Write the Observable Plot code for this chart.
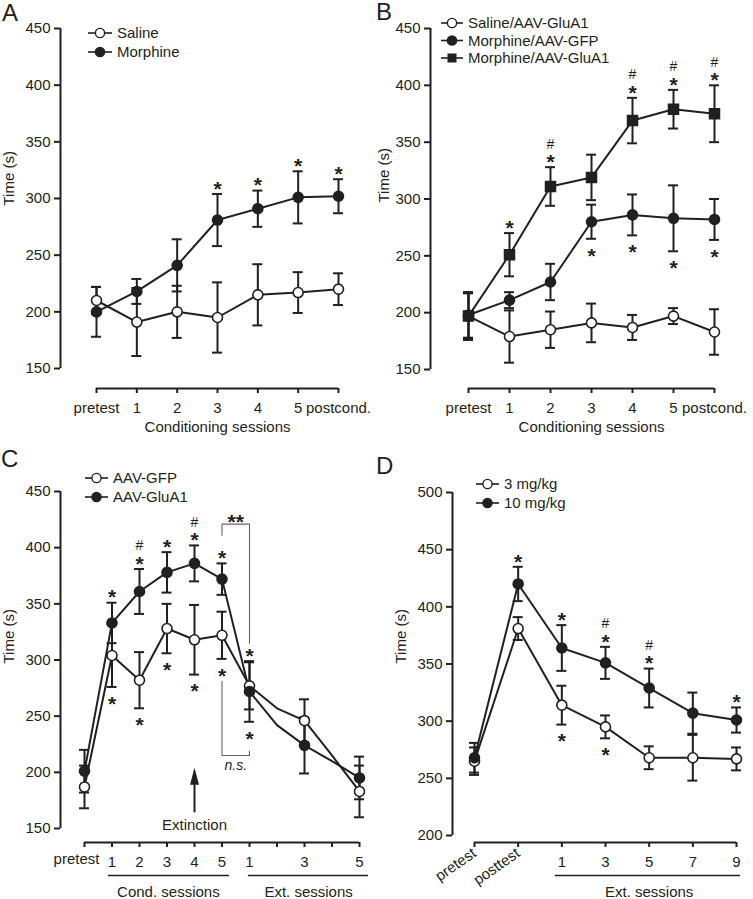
<!DOCTYPE html>
<html><head><meta charset="utf-8">
<script src="https://cdn.jsdelivr.net/npm/d3@7"></script>
<script src="https://cdn.jsdelivr.net/npm/@observablehq/plot@0.6"></script>
<style>
body{margin:0;background:#fff;}
#fig{position:relative;width:753px;height:899px;background:#fff;overflow:hidden;font-family:'Liberation Sans',Arial,Helvetica,sans-serif;color:#231f20}
.panel{position:absolute}
.letter{position:absolute;font-size:24px;line-height:1}
</style></head><body><div id="fig"></div>
<script>
const INK = "#231f20";
const FONT = "'Liberation Sans', Arial, Helvetica, sans-serif";

// ---------- Panel A ----------
const A_labels = ["pretest", "1", "2", "3", "4", "5", "postcond."];
const A_yticks = [150, 200, 250, 300, 350, 400, 450];
const A_series = ["Saline", "Morphine"];
const A_saline = [210, 191, 200, 195, 215, 217, 220];
const A_saline_sem = [12, 30, 23, 31, 27, 18, 14];
const A_morphine = [200, 218, 241, 281, 291, 301, 302];
const A_morphine_sem = [22, 11, 23, 23, 16, 23, 15];
const A_morphine_sig = ["", "", "", "*", "*", "*", "*"];

// ---------- Panel B ----------
const B_labels = ["pretest", "1", "2", "3", "4", "5", "postcond."];
const B_yticks = [150, 200, 250, 300, 350, 400, 450];
const B_series = ["Saline/AAV-GluA1", "Morphine/AAV-GFP", "Morphine/AAV-GluA1"];
const B_saline = [197, 179, 185, 191, 187, 197, 183];
const B_saline_sem = [20, 23, 16, 17, 11, 7, 20];
const B_gfp = [198, 211, 227, 280, 286, 283, 282];
const B_gfp_sem = [20, 7, 16, 15, 18, 29, 18];
const B_gfp_sig = ["", "", "", "*", "*", "*", "*"];
const B_glua1 = [197, 251, 311, 319, 369, 379, 375];
const B_glua1_sem = [21, 19, 17, 20, 20, 17, 25];
const B_glua1_sig = ["", "*", "*", "", "*", "*", "*"];
const B_glua1_hash = ["", "", "#", "", "#", "#", "#"];

// ---------- Panel C ----------
const C_labels = ["pretest", "1", "2", "3", "4", "5", "1", "", "3", "", "5"];
const C_yticks = [150, 200, 250, 300, 350, 400, 450];
const C_series = ["AAV-GFP", "AAV-GluA1"];
const C_gfp = [187, 304, 282, 328, 318, 322, 277, 257, 246, 215, 183];
const C_gfp_sem = [19, 28, 25, 22, 31, 21, 21, null, 19, null, 23];
const C_glua1 = [201, 333, 361, 378, 386, 372, 272, 242, 224, 210, 195];
const C_glua1_sem = [19, 18, 20, 18, 16, 14, 27, null, 25, null, 19];
const C_sig_above = ["", "*", "*", "*", "*", "*", "*", "", "", "", ""];
const C_hash_above = ["", "", "#", "", "#", "", "", "", "", "", ""];
const C_sig_below = ["", "*", "*", "*", "*", "*", "*", "", "", "", ""];
const C_groups = ["Cond. sessions", "Ext. sessions"];
const C_group_from = [0.87, 5.96];
const C_group_to = [5.27, 10.33];
const C_group_mid = [3.05, 8.15];
const C_bracket_sig = [[5, 411], [5, 421], [6, 421], [6, 315]];
const C_bracket_ns = [[5, 281], [5, 215], [6, 215], [6, 219]];
const C_bracket_text = [[5.5, 427, "**"], [5.5, 206, "n.s."]];
const C_arrow = {i: 4, from: 164, to: 189, label: "Extinction", labelAt: 153};

// ---------- Panel D ----------
const D_labels = ["pretest", "posttest", "1", "3", "5", "7", "9"];
const D_yticks = [200, 250, 300, 350, 400, 450, 500];
const D_series = ["3 mg/kg", "10 mg/kg"];
const D_low = [265, 381, 314, 295, 268, 268, 267];
const D_low_sem = [12, 10, 17, 10, 10, 20, 10];
const D_low_sig = ["", "", "*", "*", "", "", ""];
const D_high = [268, 420, 364, 351, 329, 307, 301];
const D_high_sem = [13, 15, 20, 14, 17, 18, 11];
const D_high_sig = ["", "*", "*", "*", "*", "", "*"];
const D_high_hash = ["", "", "", "#", "#", "", ""];
const D_group = "Ext. sessions";

// ---------- helpers ----------
function rows(means, sems, extra = {}) {
  return means.map((v, i) => {
    const r = {i, v, sem: sems[i]};
    for (const k in extra) r[k] = extra[k][i];
    return r;
  });
}

function seriesLayers(list) {
  const bars = [], lines = [], dots = [];
  for (const s of list) {
    const b = s.rows.filter(d => d.sem != null);
    bars.push(
      Plot.ruleX(b, {x: "i", y1: d => d.v - d.sem, y2: d => d.v + d.sem, stroke: INK, strokeWidth: 2}),
      Plot.ruleY(b, {y: d => d.v + d.sem, x1: "i", x2: "i", insetLeft: -5, insetRight: -5, stroke: INK, strokeWidth: 2}),
      Plot.ruleY(b, {y: d => d.v - d.sem, x1: "i", x2: "i", insetLeft: -5, insetRight: -5, stroke: INK, strokeWidth: 2})
    );
    lines.push(Plot.line(s.rows, {x: "i", y: "v", stroke: INK, strokeWidth: 2}));
    dots.push(Plot.dot(b, {x: "i", y: "v", r: s.symbol === "square" ? 5.6 : 5, symbol: s.symbol || "circle",
      fill: s.filled ? INK : "white", stroke: INK, strokeWidth: 1.6}));
  }
  return [...bars, ...lines, ...dots];
}

const starStyle = {fontSize: 21, fontWeight: "bold", fill: INK, fontFamily: FONT};
function starsAbove(data, key, topFn) {
  return Plot.text(data.filter(d => d[key]), {x: "i", y: topFn, text: key, dy: -5, ...starStyle});
}
function starsBelow(data, key, botFn) {
  return Plot.text(data.filter(d => d[key]), {x: "i", y: botFn, text: key, dy: 17, ...starStyle});
}
function hashAbove(data, key, topFn) {
  return Plot.text(data.filter(d => d[key]), {x: "i", y: topFn, text: key, dy: -23, fontSize: 14, fill: INK});
}

function legend(items, x0, y0, step, len) {
  return () => {
    const g = d3.create("svg:g").attr("font-family", FONT).attr("font-size", 15).attr("fill", INK)
      .attr("text-anchor", "start");
    items.forEach((it, k) => {
      const y = y0 + k * step;
      g.append("line").attr("x1", x0).attr("x2", x0 + len).attr("y1", y).attr("y2", y)
        .attr("stroke", INK).attr("stroke-width", 1.6);
      if (it.symbol === "square") {
        g.append("rect").attr("x", x0 + len / 2 - 4.5).attr("y", y - 4.5).attr("width", 9).attr("height", 9).attr("fill", INK);
      } else {
        g.append("circle").attr("cx", x0 + len / 2).attr("cy", y).attr("r", 4.6)
          .attr("fill", it.filled ? INK : "white").attr("stroke", INK).attr("stroke-width", 1.4);
      }
      g.append("text").attr("x", x0 + len + 5).attr("y", y).attr("dy", "0.35em")
        .attr("text-anchor", "start").attr("stroke", "none").text(it.label);
    });
    return g.node();
  };
}

const baseStyle = {fontFamily: FONT, fontSize: "15px", color: INK, background: "none", overflow: "visible"};

function axes(o) {
  return [
    Plot.ruleX([o.x0], {y1: o.y0, y2: o.y1, dx: o.axDx, stroke: INK, strokeWidth: 2}),
    Plot.ruleY([o.y0], {x1: o.x0, x2: o.xN, dy: o.axDy, stroke: INK, strokeWidth: 2}),
    Plot.axisY({ticks: o.yticks, tickSize: 6, tickPadding: 4, stroke: INK, strokeWidth: 2, fill: INK, label: null}),
    Plot.text(["Time (s)"], {frameAnchor: "left", rotate: -90, dx: o.titleDx, text: d => d, fill: INK})
  ];
}

const fig = document.getElementById("fig");
function place(svg, left, top) {
  const d = document.createElement("div");
  d.className = "panel";
  d.style.left = left + "px"; d.style.top = top + "px";
  d.appendChild(svg);
  fig.appendChild(d);
}
function letter(t, left, top) {
  const d = document.createElement("div");
  d.className = "letter"; d.textContent = t;
  d.style.left = left + "px"; d.style.top = top + "px";
  fig.appendChild(d);
}

// ---------- draw A ----------
{
  const sal = rows(A_saline, A_saline_sem);
  const mor = rows(A_morphine, A_morphine_sem, {sig: A_morphine_sig});
  const svg = Plot.plot({
    width: 376, height: 445, marginLeft: 60, marginTop: 22, marginBottom: 57, marginRight: 38,
    x: {type: "linear", domain: [0, 6], range: [96, 338]},
    y: {domain: [150, 450], range: [368, 28]},
    style: baseStyle,
    marks: [
      ...axes({x0: 0, xN: 6, y0: 150, y1: 450, axDx: -36, axDy: 20, yticks: A_yticks, titleDx: -51}),
      Plot.axisX({ticks: d3.range(7), tickFormat: i => A_labels[i], tickSize: 5, tickPadding: 9, stroke: INK, strokeWidth: 2, fill: INK, label: null}),
      Plot.text(["Conditioning sessions"], {x: () => 3, frameAnchor: "bottom", dy: 43, text: d => d, fill: INK}),
      ...seriesLayers([{rows: sal, filled: false}, {rows: mor, filled: true}]),
      starsAbove(mor, "sig", d => d.v + d.sem),
      legend([{label: A_series[0], filled: false}, {label: A_series[1], filled: true}], 88, 33, 19, 24)
    ]
  });
  place(svg, 0, 0);
}

// ---------- draw B ----------
{
  const sal = rows(B_saline, B_saline_sem);
  const gfp = rows(B_gfp, B_gfp_sem, {sig: B_gfp_sig});
  const glu = rows(B_glua1, B_glua1_sem, {sig: B_glua1_sig, hash: B_glua1_hash});
  const svg = Plot.plot({
    width: 377, height: 445, marginLeft: 54, marginTop: 16, marginBottom: 57, marginRight: 39,
    x: {type: "linear", domain: [0, 6], range: [92, 338]},
    y: {domain: [150, 450], range: [369, 28]},
    style: baseStyle,
    marks: [
      ...axes({x0: 0, xN: 6, y0: 150, y1: 450, axDx: -38, axDy: 19, yticks: B_yticks, titleDx: -46}),
      Plot.axisX({ticks: d3.range(7), tickFormat: i => B_labels[i], tickSize: 5, tickPadding: 9, stroke: INK, strokeWidth: 2, fill: INK, label: null}),
      Plot.text(["Conditioning sessions"], {x: () => 3, frameAnchor: "bottom", dy: 43, text: d => d, fill: INK}),
      ...seriesLayers([{rows: sal, filled: false}, {rows: gfp, filled: true}, {rows: glu, filled: true, symbol: "square"}]),
      starsBelow(gfp, "sig", d => d.v - d.sem),
      starsAbove(glu, "sig", d => d.v + d.sem),
      hashAbove(glu, "hash", d => d.v + d.sem),
      legend([{label: B_series[0], filled: false}, {label: B_series[1], filled: true}, {label: B_series[2], symbol: "square"}], 65, 23, 17.5, 22)
    ]
  });
  place(svg, 376, 0);
}

// ---------- draw C ----------
{
  const gfp = rows(C_gfp, C_gfp_sem);
  const glu = rows(C_glua1, C_glua1_sem);
  const sig = C_gfp.map((v, i) => ({
    i,
    top: Math.max(v + (C_gfp_sem[i] || 0), C_glua1[i] + (C_glua1_sem[i] || 0)),
    bot: Math.min(v - (C_gfp_sem[i] || 0), C_glua1[i] - (C_glua1_sem[i] || 0)),
    above: C_sig_above[i], hash: C_hash_above[i], below: C_sig_below[i]
  }));
  const groups = C_groups.map((g, k) => ({g, from: C_group_from[k], to: C_group_to[k], mid: C_group_mid[k]}));
  const svg = Plot.plot({
    width: 376, height: 469, marginLeft: 60, marginTop: 54, marginBottom: 57, marginRight: 17,
    x: {type: "linear", domain: [0, 10], range: [84, 359]},
    y: {domain: [150, 450], range: [398, 61]},
    style: baseStyle,
    marks: [
      ...axes({x0: 0, xN: 10, y0: 150, y1: 450, axDx: -24, axDy: 14, yticks: C_yticks, titleDx: -51}),
      Plot.axisX({ticks: d3.range(11), tickFormat: i => (i === 0 ? "" : C_labels[i]), tickSize: 5, tickPadding: 9, stroke: INK, strokeWidth: 2, fill: INK, label: null}),
      Plot.text([C_labels[0]], {x: () => 0, frameAnchor: "bottom", dy: 21, dx: -8, text: d => d, fill: INK}),
      Plot.ruleY(groups, {y: () => 150, x1: "from", x2: "to", dy: 47, stroke: INK, strokeWidth: 1.5}),
      Plot.text(groups, {x: "mid", y: () => 150, dy: 64, text: "g", fill: INK}),
      Plot.line(C_bracket_sig, {x: d => d[0], y: d => d[1], stroke: "#666", strokeWidth: 1.1}),
      Plot.line(C_bracket_ns, {x: d => d[0], y: d => d[1], stroke: "#666", strokeWidth: 1.1}),
      Plot.text(C_bracket_text.slice(0, 1), {x: d => d[0], y: d => d[1], text: d => d[2], dy: 5, ...starStyle}),
      Plot.text(C_bracket_text.slice(1), {x: d => d[0], y: d => d[1], text: d => d[2], fontStyle: "italic", fontSize: 14, fill: INK}),
      Plot.ruleX([C_arrow], {x: "i", y1: "from", y2: "to", stroke: INK, strokeWidth: 2}),
      Plot.vector([C_arrow], {x: "i", y: "to", length: 17, rotate: 0, shape: "spike", r: 4.5, anchor: "start", fill: INK, stroke: "none"}),
      Plot.text([C_arrow], {x: "i", y: "labelAt", text: "label", fill: INK}),
      ...seriesLayers([{rows: gfp, filled: false}, {rows: glu, filled: true}]),
      starsAbove(sig, "above", d => d.top),
      hashAbove(sig, "hash", d => d.top),
      starsBelow(sig, "below", d => d.bot),
      legend([{label: C_series[0], filled: false}, {label: C_series[1], filled: true}], 85, 48, 19, 23)
    ]
  });
  place(svg, 0, 430);
}

// ---------- draw D ----------
{
  const low = rows(D_low, D_low_sem, {sig: D_low_sig});
  const high = rows(D_high, D_high_sem, {sig: D_high_sig, hash: D_high_hash});
  const svg = Plot.plot({
    width: 377, height: 469, marginLeft: 76, marginTop: 54, marginBottom: 57, marginRight: 17,
    x: {type: "linear", domain: [0, 6], range: [98, 360]},
    y: {domain: [200, 500], range: [405, 62]},
    style: baseStyle,
    marks: [
      ...axes({x0: 0, xN: 6, y0: 200, y1: 500, axDx: -22, axDy: 7, yticks: D_yticks, titleDx: -51}),
      Plot.axisX({ticks: [2, 3, 4, 5, 6], tickFormat: i => D_labels[i], tickSize: 5, tickPadding: 9, stroke: INK, strokeWidth: 2, fill: INK, label: null}),
      Plot.axisX({ticks: [0, 1], tickFormat: i => D_labels[i], tickSize: 5, tickPadding: 4, tickRotate: -35, stroke: INK, strokeWidth: 2, fill: INK, label: null}),
      Plot.ruleY([D_group], {y: () => 200, x1: () => 1.85, x2: () => 6.09, dy: 40, stroke: INK, strokeWidth: 1.5}),
      Plot.text([D_group], {x: () => 4, y: () => 200, dy: 57, text: d => d, fill: INK}),
      ...seriesLayers([{rows: low, filled: false}, {rows: high, filled: true}]),
      starsAbove(high, "sig", d => d.v + d.sem),
      hashAbove(high, "hash", d => d.v + d.sem),
      starsBelow(low, "sig", d => d.v - d.sem),
      legend([{label: D_series[0], filled: false}, {label: D_series[1], filled: true}], 100, 54, 19, 23)
    ]
  });
  place(svg, 376, 430);
}

letter("A", 2, 1);
letter("B", 376, 0);
letter("C", 1, 447);
letter("D", 376, 454);
</script></body></html>
